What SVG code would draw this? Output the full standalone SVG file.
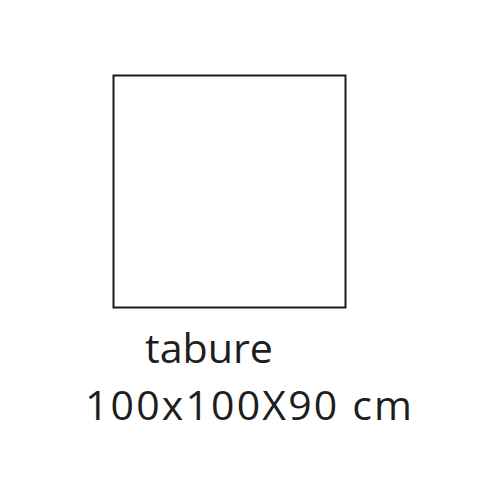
<svg xmlns="http://www.w3.org/2000/svg" width="500" height="500" viewBox="0 0 500 500">
<style>
.lbl{font-family:"Open Sans","Liberation Sans",sans-serif;fill:#1e1e1e}
</style>
<rect width="500" height="500" fill="#fff"/>
<g id="tabure">
<rect x="113.5" y="75.5" width="232" height="232" fill="none" stroke="#1a1a1a" stroke-width="2"/>
<text class="lbl" x="145" y="363" font-size="40" textLength="128" lengthAdjust="spacingAndGlyphs">tabure</text>
<text class="lbl" x="85" y="420" font-size="41" textLength="327" lengthAdjust="spacing">100x100X90 cm</text>
</g>
</svg>
